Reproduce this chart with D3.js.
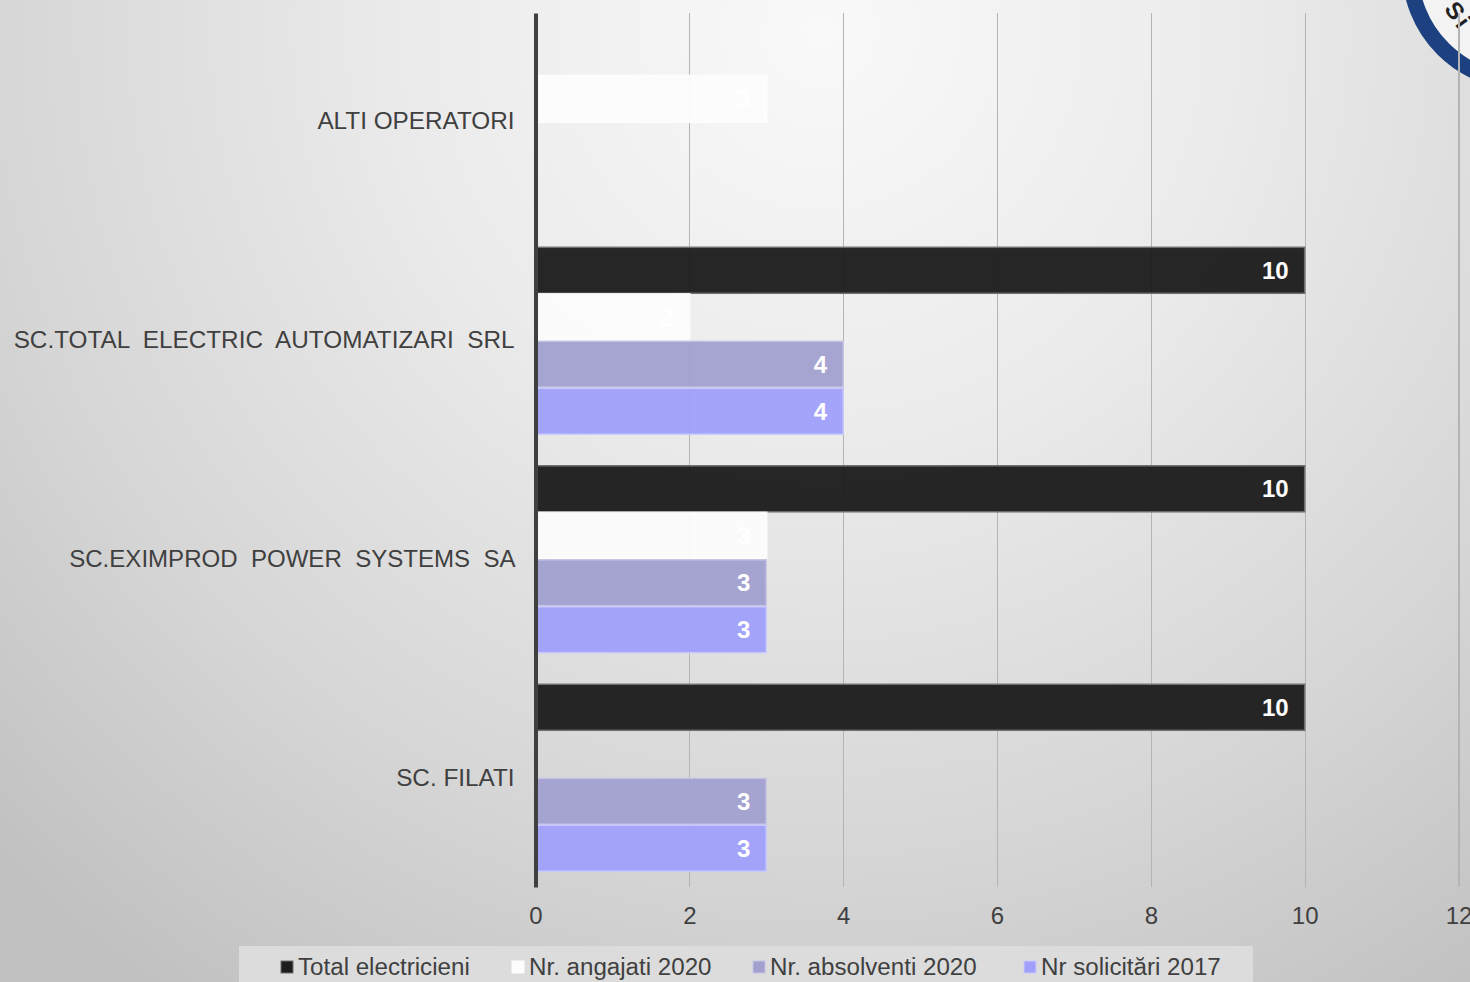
<!DOCTYPE html>
<html><head><meta charset="utf-8">
<script src="https://cdn.jsdelivr.net/npm/d3@7"></script>
<style>html,body{margin:0;padding:0;overflow:hidden;background:#ccc}svg{display:block}text{font-family:"Liberation Sans",Arial,sans-serif}</style>
</head><body><div id="chart"></div>
<script>
const categories = ["ALTI OPERATORI", "SC.TOTAL  ELECTRIC  AUTOMATIZARI  SRL", "SC.EXIMPROD  POWER  SYSTEMS  SA", "SC. FILATI"];
const seriesNames = ["Total electricieni", "Nr. angajati 2020", "Nr. absolventi 2020", "Nr solicitări 2017"];
const totalElectricieni = [null, 10, 10, 10];
const angajati2020 = [3, 2, 3, null];
const absolventi2020 = [null, 4, 3, 3];
const solicitari2017 = [null, 4, 3, 3];
const seriesValues = [totalElectricieni, angajati2020, absolventi2020, solicitari2017];
const seriesColors = ["#1d1d1d", "#fdfdfd", "#a2a0cf", "#a0a0fb"];
const seriesStrokes = ["#6e6e6e", "#fdfdfd", "#c6c5e2", "#c9c9fb"];
const seriesStrokeWidths = [1.5, 2.5, 1.5, 1.5];
const xTicks = [0, 2, 4, 6, 8, 10, 12];

const W = 1470, H = 982;
const svg = d3.select("#chart").append("svg").attr("width", W).attr("height", H);
const defs = svg.append("defs");
const g = defs.append("radialGradient").attr("id", "bg").attr("gradientUnits", "userSpaceOnUse")
  .attr("cx", 820).attr("cy", 30).attr("r", 1180);
[[0, "#f9f9f9"], [0.35, "#ebebeb"], [0.7, "#d6d6d6"], [1, "#c0c0c0"]].forEach(([o, c]) => g.append("stop").attr("offset", o).attr("stop-color", c));
const gl = defs.append("linearGradient").attr("id", "gridGrad").attr("gradientUnits", "userSpaceOnUse")
  .attr("x1", 0).attr("y1", 12).attr("x2", 0).attr("y2", 886);
gl.append("stop").attr("offset", 0).attr("stop-color", "#b4b4b4");
gl.append("stop").attr("offset", 1).attr("stop-color", "#707070");
svg.append("rect").attr("width", W).attr("height", H).attr("fill", "url(#bg)");

// seal fragment, top right
const seal = svg.append("g").attr("transform", "translate(1523,-31)");
seal.append("circle").attr("r", 113).attr("fill", "#f3f3f3").attr("stroke", "#1c4080").attr("stroke-width", 16);
seal.append("text").attr("transform", "rotate(54) translate(0,88)").attr("text-anchor", "middle")
  .attr("font-size", 24).attr("font-weight", "bold").attr("font-family", '"Liberation Serif",serif')
  .attr("letter-spacing", 3).attr("fill", "#222").text("Si");

const x = d3.scaleLinear().domain([0, 12]).range([535.5, 1458.5]);
const y = d3.scaleBand().domain(categories).range([13, 887]).paddingInner(0.14).paddingOuter(0.07);
const y1 = d3.scaleBand().domain(d3.range(seriesNames.length)).range([0, y.bandwidth()]);

const xAxis = d3.axisBottom(x).tickValues(xTicks).tickSize(-874).tickPadding(20).tickFormat(d3.format("d"));
const xg = svg.append("g").attr("transform", "translate(0,887)").call(xAxis);
xg.select(".domain").remove();
xg.selectAll("line").attr("stroke", "url(#gridGrad)").attr("stroke-width", 1.2)
  .attr("shape-rendering", "crispEdges");
xg.selectAll(".tick").filter(d => d === 0).select("line").remove();
xg.selectAll("text").attr("font-size", 24).attr("fill", "#404040").attr("font-family", '"Liberation Sans",Arial,sans-serif');

seriesNames.forEach((name, si) => {
  const data = categories.map((c, i) => ({ c, v: seriesValues[si][i] })).filter(d => d.v !== null);
  svg.append("g").selectAll("rect").data(data).join("rect")
    .attr("x", x(0) + 1).attr("y", d => y(d.c) + y1(si) + 0.5)
    .attr("width", d => x(d.v) - x(0) - 1).attr("height", y1.bandwidth() - 1)
    .attr("fill", seriesColors[si]).attr("fill-opacity", si === 1 ? 0.9 : 0.96)
    .attr("stroke", seriesStrokes[si]).attr("stroke-opacity", si === 1 ? 0.9 : 1)
    .attr("stroke-width", seriesStrokeWidths[si]);
  svg.append("g").selectAll("text").data(data).join("text")
    .attr("x", d => x(d.v) - 16).attr("y", d => y(d.c) + y1(si) + y1.bandwidth() / 2)
    .attr("dy", "0.36em").attr("text-anchor", "end")
    .attr("font-size", 24).attr("font-weight", "bold").attr("fill", "#fff").text(d => d.v);
});

const yAxis = d3.axisLeft(y).tickSize(0).tickPadding(21);
const yg = svg.append("g").attr("transform", "translate(535.5,0)").call(yAxis);
yg.select(".domain").attr("stroke", "#404040").attr("stroke-width", 4);
yg.selectAll("text").attr("font-size", 24.3).attr("fill", "#404040").attr("xml:space", "preserve")
  .style("white-space", "pre").attr("font-family", '"Liberation Sans",Arial,sans-serif')
  .attr("dy", (d, i) => i < 2 ? "0.28em" : "0.32em");
yg.selectAll("text").filter(d => d.includes("EXIMPROD")).attr("font-size", 24.05).attr("dx", 1);

// legend
svg.append("rect").attr("x", 239).attr("y", 946).attr("width", 1014).attr("height", 36).attr("fill", "#dcdcdc");
const legendX = d3.scaleOrdinal().domain(seriesNames).range([281, 512, 753, 1024]);
const lg = svg.append("g").selectAll("g").data(seriesNames).join("g")
  .attr("transform", d => `translate(${legendX(d)},961)`);
lg.append("rect").attr("width", 12).attr("height", 12)
  .attr("fill", (d, i) => seriesColors[i]).attr("stroke", (d, i) => seriesStrokes[i]).attr("stroke-width", 1);
lg.append("text").attr("x", 17).attr("y", 5.5).attr("dy", "0.36em")
  .attr("font-size", 24.15).attr("fill", "#404040").text(d => d);
</script></body></html>
